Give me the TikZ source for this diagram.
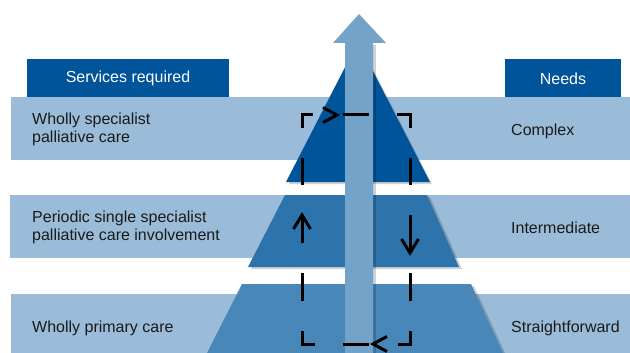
\documentclass[tikz,border=0pt]{standalone}
\usepackage{fontspec}
\setmainfont{Liberation Sans}
\definecolor{band}{HTML}{9ABCD8}
\definecolor{head}{HTML}{005499}
\definecolor{ptop}{HTML}{00549A}
\definecolor{pmid}{HTML}{2D73AC}
\definecolor{pbot}{HTML}{4A87B9}
\definecolor{arr}{HTML}{74A3C9}
\definecolor{txt}{HTML}{1A1A1A}
\tikzset{
  bandbox/.style={fill=band},
  headbox/.style={fill=head, text=white, font=\fontsize{16}{18}\selectfont},
  bandtext/.style={anchor=west, align=left, text=txt, font=\fontsize{16}{18}\selectfont, inner sep=0pt},
  shade/.style={fill=black, opacity=0.18},
  dashline/.style={line width=3pt, line cap=butt, line join=miter, draw=black},
}
\begin{document}
\begin{tikzpicture}[x=1pt, y=-1pt]
\useasboundingbox (0,0) rectangle (630,353);
% bands
\fill[bandbox] (11,97) rectangle (630,160);
\fill[bandbox] (10,195) rectangle (630,258);
\fill[bandbox] (11,294) rectangle (630,353);
% headers
\fill[head] (27,59) rectangle (229,97);
\node[headbox, inner sep=0pt] (hserv) at (128,78.5) {Services required};
\fill[head] (505,59) rectangle (621,97);
\node[headbox, inner sep=0pt] (hneed) at (563,78.5) {Needs};
% pyramid shadows
\fill[shade] (360,44) -- (432,184) -- (289,184) -- cycle;
\fill[shade] (288,197) -- (430,197) -- (462,269) -- (251,269) -- cycle;
\fill[shade] (245,286) -- (474,286) -- (506,355) -- (210,355) -- cycle;
% pyramid
\fill[ptop] (358,42) -- (430,182) -- (286,182) -- cycle;
\fill[pmid] (285,195) -- (427,195) -- (459,267) -- (248,267) -- cycle;
\fill[pbot] (242,284) -- (471,284) -- (503,353) -- (207,353) -- cycle;
% arrow
\fill[shade] (373,45) rectangle (376,353);
\fill[arr] (345,43) -- (333,43) -- (359,14) -- (386,43) -- (373,43) -- (373,353) -- (345,353) -- cycle;
% dashed cycle
\draw[dashline] (302,128) -- (302,115) -- (313,115);
\draw[dashline] (323,107.5) -- (337,115) -- (323,122.5);
\draw[dashline] (343,115) -- (369,115);
\draw[dashline] (397,115) -- (410,115) -- (410,128);
\draw[dashline] (302,158) -- (302,185);
\draw[dashline] (410,158) -- (410,185);
\draw[dashline] (302,243) -- (302,216);
\draw[dashline] (293.5,229) -- (302,215) -- (310.5,229);
\draw[dashline] (410,215) -- (410,252);
\draw[dashline] (401.5,239) -- (410,253) -- (418.5,239);
\draw[dashline] (302,273) -- (302,301);
\draw[dashline] (410,273) -- (410,301);
\draw[dashline] (302,331) -- (302,344) -- (315,344);
\draw[dashline] (343,344) -- (369,344);
\draw[dashline] (387,336.5) -- (373,344) -- (387,351.5);
\draw[dashline] (398,344) -- (410,344) -- (410,331);
% texts
\node[bandtext] (t1) at (32,129) {Wholly specialist\\palliative care};
\node[bandtext] (t2) at (32,227) {Periodic single specialist\\palliative care involvement};
\node[bandtext] (t3) at (32,328) {Wholly primary care};
\node[bandtext] (n1) at (511,131) {Complex};
\node[bandtext] (n2) at (511,228) {Intermediate};
\node[bandtext] (n3) at (511,328) {Straightforward};
\end{tikzpicture}
\end{document}
